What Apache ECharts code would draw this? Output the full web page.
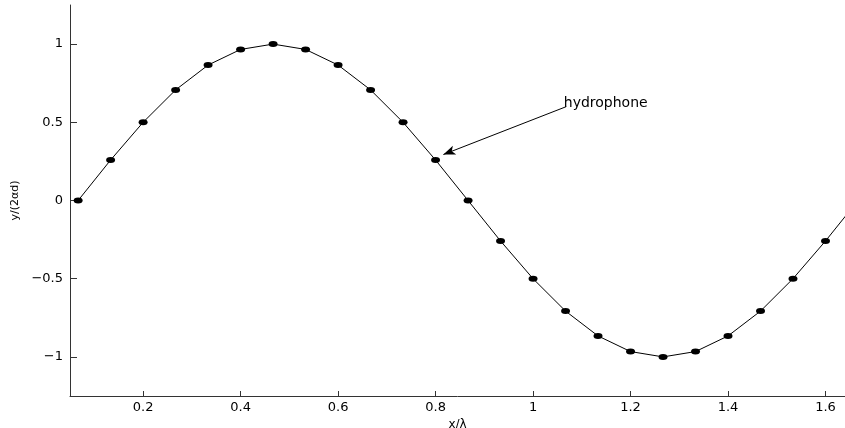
<!DOCTYPE html>
<html>
<head>
<meta charset="utf-8">
<script src="https://cdn.jsdelivr.net/npm/echarts@6/dist/echarts.min.js"></script>
<style>
html,body{margin:0;padding:0;background:#fff;}
#chart{width:845px;height:428px;}
</style>
</head>
<body>
<div id="chart"></div>
<script>
// x/λ positions of samples
const xValues = [0.0667,0.1333,0.2,0.2667,0.3333,0.4,0.4667,0.5333,0.6,0.6667,0.7333,0.8,0.8667,0.9333,1.0,1.0667,1.1333,1.2,1.2667,1.3333,1.4,1.4667,1.5333,1.6,1.6667];
// y/(2αd) values
const yValues = [0,0.2588,0.5,0.7071,0.866,0.9659,1,0.9659,0.866,0.7071,0.5,0.2588,0,-0.2588,-0.5,-0.7071,-0.866,-0.9659,-1,-0.9659,-0.866,-0.7071,-0.5,-0.2588,0];
const xTicks = [0.2,0.4,0.6,0.8,1.0,1.2,1.4,1.6];
const yTicks = [-1,-0.5,0,0.5,1];
const annotationText = 'hydrophone';
const arrowFrom = [1.068, 0.60];
const arrowTo = [0.816, 0.294];
const textAt = [1.062, 0.62];

const data = xValues.map((x,i)=>[x,yValues[i]]);
const fmt = v => String(Math.round(v*10)/10).replace('-', '\u2212');
const font = 'DejaVu Sans';

const chart = echarts.init(document.getElementById('chart'));
chart.setOption({
  animation:false,
  grid:{left:70,right:0,top:5,bottom:32,containLabel:false,outerBoundsMode:'none'},
  xAxis:{
    type:'value', min:0.05, max:1.64,
    name:'x/\u03bb', nameLocation:'middle', nameGap:9,
    nameTextStyle:{fontFamily:font,fontSize:12,color:'#000'},
    axisLine:{show:true,onZero:false,lineStyle:{color:'#333',width:1}},
    axisTick:{show:true,inside:true,length:5,customValues:xTicks,lineStyle:{color:'#333'}},
    axisLabel:{customValues:xTicks,formatter:fmt,fontFamily:font,fontSize:13,color:'#000',margin:5},
    splitLine:{show:false}
  },
  yAxis:{
    type:'value', min:-1.25, max:1.25,
    name:'y/(2\u03b1d)', nameLocation:'middle', nameGap:39,
    nameTextStyle:{fontFamily:font,fontSize:11,color:'#000'},
    axisLine:{show:true,onZero:false,lineStyle:{color:'#333',width:1}},
    axisTick:{show:true,inside:true,length:7,customValues:yTicks,lineStyle:{color:'#333'}},
    axisLabel:{customValues:yTicks,formatter:fmt,fontFamily:font,fontSize:13,color:'#000',margin:7},
    splitLine:{show:false}
  },
  series:[{
    type:'line', data:data, clip:true,
    symbol:'circle', symbolSize:[9,6], showAllSymbol:true,
    itemStyle:{color:'#000'},
    lineStyle:{color:'#000',width:1},
    markLine:{
      silent:true, animation:false,
      symbol:['none','arrow'], symbolSize:[7,12],
      lineStyle:{color:'#000',width:1,type:'solid'},
      label:{show:false},
      data:[[{coord:arrowFrom},{coord:arrowTo}]]
    },
    markPoint:{
      silent:true, animation:false,
      symbol:'circle', symbolSize:1, itemStyle:{color:'rgba(0,0,0,0)'},
      label:{show:true,position:'right',distance:0,formatter:annotationText,fontFamily:font,fontSize:14,color:'#000'},
      data:[{coord:textAt}]
    }
  }]
});
</script>
</body>
</html>
